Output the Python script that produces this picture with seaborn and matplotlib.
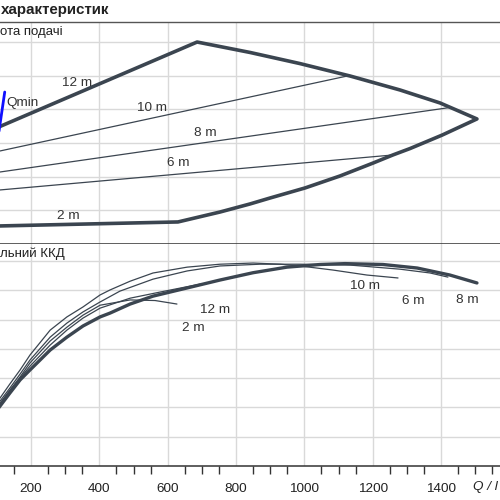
import matplotlib
matplotlib.use("Agg")
import matplotlib.pyplot as plt
import seaborn as sns
import pandas as pd

# ---------------- data ----------------
# upper panel: head envelope and constant-head lines (Q, H)
q_env = [103, 686, 841, 987, 1134, 1280, 1397, 1505, 1403, 1309, 1259, 1201, 1104, 1002, 899, 841, 753, 630, 103]
h_env = [6.93, 12.0, 11.38, 10.72, 9.98, 9.15, 8.38, 7.43, 6.47, 5.67, 5.29, 4.81, 4.04, 3.33, 2.73, 2.38, 1.90, 1.31, 1.07]
q_h10 = [103, 1125]
h_h10 = [5.50, 9.98]
q_h8 = [103, 1426]
h_h8 = [4.26, 8.11]
q_h6 = [103, 1259]
h_h6 = [3.20, 5.29]
q_qmin = [105, 123]
h_qmin = [6.53, 9.03]

# lower panel: efficiency curves (Q, eta %)
q_e8 = [105, 138, 168, 197, 256, 305, 352, 402, 431, 490, 557, 657, 753, 850, 949, 1046, 1119, 1230, 1330, 1426, 1505]
e_e8 = [19.8, 24.9, 29.4, 32.8, 39.6, 44.0, 47.8, 50.9, 52.2, 55.3, 58.0, 60.8, 63.5, 66.0, 67.9, 68.8, 69.1, 68.8, 67.6, 65.2, 62.5]
q_e10 = [105, 138, 168, 197, 256, 305, 352, 402, 431, 490, 557, 657, 753, 850, 929, 987, 1084, 1183, 1274]
e_e10 = [22.5, 28.0, 32.8, 37.9, 46.4, 50.9, 54.3, 58.4, 60.1, 63.1, 65.9, 67.9, 68.9, 69.3, 68.9, 68.3, 66.9, 65.2, 64.2]
q_e6 = [105, 138, 168, 197, 256, 305, 352, 402, 460, 557, 657, 753, 870, 987, 1134, 1280, 1368, 1420]
e_e6 = [21.5, 26.6, 31.4, 36.2, 44.0, 48.8, 52.6, 56.0, 59.7, 63.8, 66.6, 68.3, 68.9, 68.9, 68.6, 67.2, 65.9, 64.5]
q_e12 = [105, 138, 168, 197, 256, 305, 352, 402, 490, 563, 627]
e_e12 = [20.8, 25.9, 30.4, 35.2, 42.7, 47.4, 51.5, 54.9, 56.7, 56.5, 55.3]
q_e2 = [105, 138, 168, 197, 256, 305, 352, 402, 490, 578, 695]
e_e2 = [20.5, 25.6, 30.0, 34.1, 41.3, 46.4, 50.5, 53.9, 57.3, 59.4, 62.1]

# labels
upper_labels = ["12 m", "10 m", "8 m", "6 m", "2 m"]
upper_lab_q = [334, 554, 709, 630, 308]
upper_lab_h = [9.56, 8.08, 6.59, 4.81, 1.66]
lower_labels = ["10 m", "6 m", "8 m", "12 m", "2 m"]
lower_lab_q = [1177, 1318, 1476, 738, 674]
lower_lab_e = [61.4, 56.3, 56.7, 53.2, 47.1]
x_ticks = [200, 400, 600, 800, 1000, 1200, 1400]

title_text = "характеристик"
upper_ylabel = "ота подачі"
lower_ylabel = "льний ККД"
x_label = "Q / l"

# ---------------- style ----------------
sns.set_style("white")
plt.rcParams["font.family"] = ["Liberation Sans", "DejaVu Sans"]

LINE = "#3b4550"
GRID = "#d9d9d9"
TXT = "#333333"
LAB = 9.7

fig = plt.figure(figsize=(5, 5), dpi=100)
left = -37.3 / 500
width = 546.7 / 500
ax1 = fig.add_axes([left, 0.512, width, 0.444])
ax2 = fig.add_axes([left, 0.068, width, 0.444])

def line(ax, q, v, lw, color=LINE):
    df = pd.DataFrame({"q": q, "v": v})
    sns.lineplot(data=df, x="q", y="v", sort=False, estimator=None, ax=ax,
                 color=color, linewidth=lw, solid_joinstyle="round", solid_capstyle="round")

# upper
line(ax1, q_env, h_env, 2.6)
line(ax1, q_h10, h_h10, 0.9)
line(ax1, q_h8, h_h8, 0.9)
line(ax1, q_h6, h_h6, 0.9)
line(ax1, q_qmin, h_qmin, 2.0, color="#1010ff")
for t, q, h in zip(upper_labels, upper_lab_q, upper_lab_h):
    ax1.text(q, h, t, ha="center", va="center", fontsize=LAB, color=TXT)
ax1.text(128, 8.35, "Qmin", ha="left", va="center", fontsize=LAB, color=TXT)

# lower
line(ax2, q_e10, e_e10, 0.9)
line(ax2, q_e6, e_e6, 0.9)
line(ax2, q_e12, e_e12, 0.9)
line(ax2, q_e2, e_e2, 0.9)
line(ax2, q_e8, e_e8, 2.4)
for t, q, e in zip(lower_labels, lower_lab_q, lower_lab_e):
    ax2.text(q, e, t, ha="center", va="center", fontsize=LAB, color=TXT)

for ax in (ax1, ax2):
    ax.set_xlim(0, 1600)
    ax.set_xticks(x_ticks)
    ax.grid(True, color=GRID, linewidth=1.0)
    ax.set_axisbelow(True)
    ax.set_xlabel("")
    ax.set_ylabel("")
    ax.tick_params(axis="y", left=False, labelleft=False)
    for s in ("left", "right"):
        ax.spines[s].set_visible(False)

ax1.set_ylim(0, 13.19)
ax1.set_yticks([2, 4, 6, 8, 10, 12])
ax1.tick_params(axis="x", bottom=False, labelbottom=False)
ax1.spines["top"].set_color("#555555")
ax1.spines["top"].set_linewidth(1.0)
ax1.spines["bottom"].set_color("#333333")
ax1.spines["bottom"].set_linewidth(1.1)

ax2.set_ylim(0, 75.8)
ax2.set_yticks([10, 20, 30, 40, 50, 60, 70])
ax2.spines["top"].set_visible(False)
ax2.spines["bottom"].set_color("#333333")
ax2.spines["bottom"].set_linewidth(1.1)
ax2.set_xticks(list(range(0, 1601, 50)), minor=True)
ax2.tick_params(axis="x", which="major", length=10, width=1.0, color="#333333",
                labelsize=9.7, labelcolor="#222222", pad=2)
ax2.tick_params(axis="x", which="minor", length=5.5, width=1.0, color="#333333", bottom=True)

fig.text(0.5 / 500, 1 - 10 / 500, title_text, ha="left", va="center",
         fontsize=10.9, fontweight="bold", color="#222222")
fig.text(0.5 / 500, 1 - 32 / 500, upper_ylabel, ha="left", va="center", fontsize=9.5, color="#222222")
fig.text(0.5 / 500, 1 - 254 / 500, lower_ylabel, ha="left", va="center", fontsize=9.5, color="#222222")
fig.text(473 / 500, 1 - 487 / 500, x_label, ha="left", va="center", fontsize=9.7,
         color="#222222", style="italic")

fig.savefig("out.png", dpi=100)
